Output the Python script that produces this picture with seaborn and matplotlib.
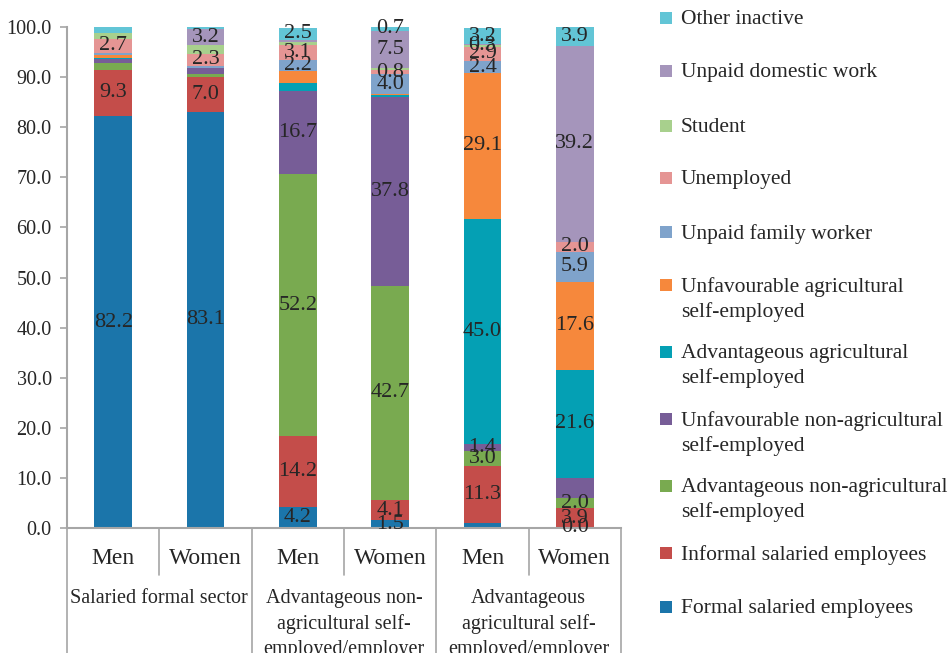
import matplotlib
matplotlib.use("Agg")
import matplotlib.pyplot as plt
import matplotlib.colors as mcolors
import matplotlib.patches as mpatches
import matplotlib.transforms as mtransforms
import numpy as np
import pandas as pd
import seaborn as sns

# bars, left to right
sexes = ["Men", "Women", "Men", "Women", "Men", "Women"]
groups = ["Salaried formal sector",
          "Advantageous non-\nagricultural self-\nemployed/employer",
          "Advantageous\nagricultural self-\nemployed/employer"]

# stacked segments, top of the stack first (same order as the legend)
categories = ["Other inactive", "Unpaid domestic work", "Student", "Unemployed",
              "Unpaid family worker", "Unfavourable agricultural\nself-employed",
              "Advantageous agricultural\nself-employed",
              "Unfavourable non-agricultural\nself-employed",
              "Advantageous non-agricultural\nself-employed",
              "Informal salaried employees", "Formal salaried employees"]
colors = ["#62c5d6", "#a595bb", "#a8d08d", "#e59594", "#7fa3cb", "#f6883c",
          "#04a0b4", "#775d97", "#79aa50", "#c44d4a", "#1b75aa"]

other_inactive = [1.2, 0.4, 2.5, 0.7, 3.2, 3.9]
unpaid_domestic = [0.0, 3.2, 0.3, 7.5, 0.2, 39.2]
student = [1.2, 1.8, 0.6, 0.4, 0.3, 0.0]
unemployed = [2.7, 2.3, 3.1, 0.8, 2.9, 2.0]
unpaid_family = [0.4, 0.4, 2.2, 4.0, 2.4, 5.9]
unfav_agri = [0.6, 0.0, 2.3, 0.2, 29.1, 17.6]
adv_agri = [0.2, 0.0, 1.6, 0.3, 45.0, 21.6]
unfav_nonagri = [0.8, 1.2, 16.7, 37.8, 1.4, 4.1]
adv_nonagri = [1.4, 0.6, 52.2, 42.7, 3.0, 2.0]
informal = [9.3, 7.0, 14.2, 4.1, 11.3, 3.9]
formal = [82.2, 83.1, 4.2, 1.5, 1.0, 0.0]
series = [other_inactive, unpaid_domestic, student, unemployed, unpaid_family,
          unfav_agri, adv_agri, unfav_nonagri, adv_nonagri, informal, formal]

# which bars carry a value label, per segment
labelled = [[2, 3, 4, 5], [1, 3, 5], [4], [0, 1, 2, 3, 4, 5], [2, 3, 4, 5],
            [4, 5], [4, 5], [2, 3, 4], [2, 3, 4, 5], [0, 1, 2, 3, 4, 5],
            [0, 1, 2, 3, 5]]

# legend layout: pixel row of each entry's first line (from top)
legend_rows = [18, 71, 126, 178, 232, 285, 352, 419, 486, 553, 607]

rows = []
for cat, vals in zip(categories, series):
    for i, v in enumerate(vals):
        rows.append({"bar": i, "category": cat, "value": v})
df = pd.DataFrame(rows)

sns.set_theme(style="white")
plt.rcParams["font.family"] = ["Liberation Serif", "DejaVu Serif"]
plt.rcParams["text.color"] = "#262626"
grey = "#a6a6a6"
W, H = 949, 653

fig = plt.figure(figsize=(W / 100, H / 100), dpi=100)
ax = fig.add_axes([67 / W, 1 - 528 / H, (621 - 67) / W, 501 / H])

sns.histplot(data=df, x="bar", weights="value", hue="category",
             hue_order=categories, palette=colors, multiple="stack",
             discrete=True, shrink=0.41, alpha=1, edgecolor="none",
             linewidth=0, legend=False, ax=ax)

# value labels
rgb = [mcolors.to_rgb(c) for c in colors]
for cont in ax.containers:
    fc = mcolors.to_rgb(cont.patches[0].get_facecolor())
    k = int(np.argmin([np.sum((np.array(fc) - np.array(c)) ** 2) for c in rgb]))
    labs = []
    for p in cont.patches:
        i = int(round(p.get_x() + p.get_width() / 2))
        labs.append(f"{series[k][i]:.1f}" if i in labelled[k] else "")
    ax.bar_label(cont, labels=labs, label_type="center", fontsize=16,
                 color="#262626")

ax.set_xlim(-0.5, 5.5)
ax.set_ylim(0, 100)
ax.set_yticks(np.arange(0, 101, 10))
ax.set_yticklabels([f"{t:.1f}" for t in np.arange(0, 101, 10)], fontsize=14.5)
ax.set_xticks([])
ax.set_xlabel("")
ax.set_ylabel("")
ax.tick_params(axis="y", direction="out", length=5, width=1.2, color=grey,
               pad=6, left=True)
for s in ["top", "right"]:
    ax.spines[s].set_visible(False)
for s in ["left", "bottom"]:
    ax.spines[s].set_color(grey)
    ax.spines[s].set_linewidth(1.5)

# multi-level category axis
trans = mtransforms.blended_transform_factory(ax.transData, ax.transAxes)
px = 1 / 501
for x in [-0.5, 0.5, 1.5, 2.5, 3.5, 4.5, 5.5]:
    low = -47 * px if x in (0.5, 2.5, 4.5) else -130 * px
    ax.plot([x, x], [0, low], color=grey, lw=1.2, transform=trans,
            clip_on=False)
for i, s in enumerate(sexes):
    ax.text(i, -30 * px, s, transform=trans, ha="center", va="center",
            fontsize=17)
for g, name in enumerate(groups):
    ax.text(2 * g + 0.5, -61 * px, name, transform=trans, ha="center",
            va="top", fontsize=14.5, linespacing=1.42)

# legend on the right
for cat, c, y in zip(categories, colors, legend_rows):
    fig.add_artist(mpatches.Rectangle((660 / W, 1 - (y + 6) / H), 12 / W, 12 / H,
                                      transform=fig.transFigure, facecolor=c,
                                      edgecolor="none"))
    fig.text(681 / W, 1 - (y - 8) / H, cat, ha="left", va="top",
             fontsize=15.5, linespacing=1.33)

fig.savefig("out.png", dpi=100)
